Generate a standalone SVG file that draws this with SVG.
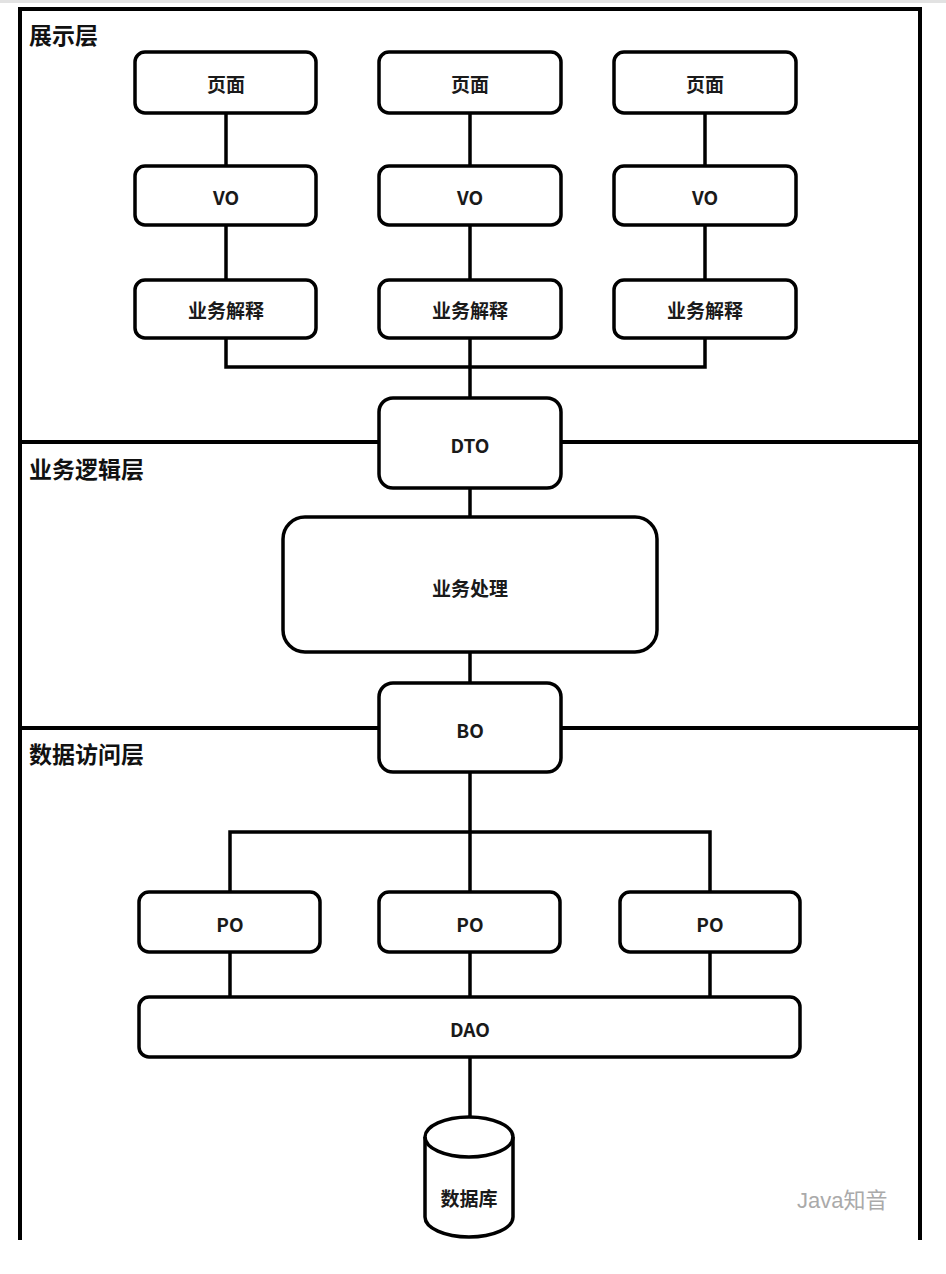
<svg xmlns="http://www.w3.org/2000/svg" width="946" height="1274" viewBox="0 0 946 1274">
<style>
.box{fill:#fff;stroke:#000;stroke-width:3.5}
.ln{fill:none;stroke:#000;stroke-width:3.5}
.frame{fill:none;stroke:#000;stroke-width:4}
.t{font-family:"Noto Sans CJK SC","Liberation Sans",sans-serif;font-size:19px;font-weight:bold;fill:#1a1a1a;text-anchor:middle;dominant-baseline:central}
.lay{font-family:"Noto Sans CJK SC",sans-serif;font-size:23px;font-weight:bold;fill:#111}
.wm{font-family:"Liberation Sans","Noto Sans CJK SC",sans-serif;font-size:22px;fill:#aaa}
</style>
<rect x="0" y="0" width="946" height="1274" fill="#fff"/>
<rect x="0" y="0" width="946" height="3" fill="#e2e2e2"/>
<g id="frame">
<path class="frame" d="M20,1240 V9 H920 V1240"/>
<line class="frame" x1="20" y1="442" x2="920" y2="442"/>
<line class="frame" x1="20" y1="728" x2="920" y2="728"/>
<text class="lay" x="29" y="44">展示层</text>
<text class="lay" x="29" y="478">业务逻辑层</text>
<text class="lay" x="29" y="763">数据访问层</text>
</g>
<g id="connectors">
<line class="ln" x1="226" y1="113" x2="226" y2="166"/>
<line class="ln" x1="470" y1="113" x2="470" y2="166"/>
<line class="ln" x1="705" y1="113" x2="705" y2="166"/>
<line class="ln" x1="226" y1="225" x2="226" y2="280"/>
<line class="ln" x1="470" y1="225" x2="470" y2="280"/>
<line class="ln" x1="705" y1="225" x2="705" y2="280"/>
<path class="ln" d="M226,338 V367 H705 V338"/>
<line class="ln" x1="470" y1="338" x2="470" y2="398"/>
<line class="ln" x1="470" y1="488" x2="470" y2="517"/>
<line class="ln" x1="470" y1="652" x2="470" y2="683"/>
<line class="ln" x1="470" y1="772" x2="470" y2="892"/>
<path class="ln" d="M230,892 V832 H710 V892"/>
<line class="ln" x1="230" y1="952" x2="230" y2="997"/>
<line class="ln" x1="470" y1="952" x2="470" y2="997"/>
<line class="ln" x1="710" y1="952" x2="710" y2="997"/>
<line class="ln" x1="470" y1="1057" x2="470" y2="1117"/>
</g>
<g id="page1"><rect class="box" x="135" y="52" width="181" height="61" rx="10"/><text class="t" x="226" y="83">页面</text></g>
<g id="page2"><rect class="box" x="379" y="52" width="182" height="61" rx="10"/><text class="t" x="470" y="83">页面</text></g>
<g id="page3"><rect class="box" x="614" y="52" width="182" height="61" rx="10"/><text class="t" x="705" y="83">页面</text></g>
<g id="vo1"><rect class="box" x="135" y="166" width="181" height="59" rx="10"/><text class="t" x="226" y="196">VO</text></g>
<g id="vo2"><rect class="box" x="379" y="166" width="182" height="59" rx="10"/><text class="t" x="470" y="196">VO</text></g>
<g id="vo3"><rect class="box" x="614" y="166" width="182" height="59" rx="10"/><text class="t" x="705" y="196">VO</text></g>
<g id="biz1"><rect class="box" x="135" y="280" width="181" height="58" rx="10"/><text class="t" x="226" y="309">业务解释</text></g>
<g id="biz2"><rect class="box" x="379" y="280" width="182" height="58" rx="10"/><text class="t" x="470" y="309">业务解释</text></g>
<g id="biz3"><rect class="box" x="614" y="280" width="182" height="58" rx="10"/><text class="t" x="705" y="309">业务解释</text></g>
<g id="dto"><rect class="box" x="379" y="398" width="182" height="90" rx="14"/><text class="t" x="470" y="444">DTO</text></g>
<g id="process"><rect class="box" x="283" y="517" width="374" height="135" rx="22"/><text class="t" x="470" y="587">业务处理</text></g>
<g id="bo"><rect class="box" x="379" y="683" width="182" height="89" rx="14"/><text class="t" x="470" y="729">BO</text></g>
<g id="po1"><rect class="box" x="139" y="892" width="181" height="60" rx="10"/><text class="t" x="230" y="923">PO</text></g>
<g id="po2"><rect class="box" x="379" y="892" width="181" height="60" rx="10"/><text class="t" x="470" y="923">PO</text></g>
<g id="po3"><rect class="box" x="620" y="892" width="180" height="60" rx="10"/><text class="t" x="710" y="923">PO</text></g>
<g id="dao"><rect class="box" x="139" y="997" width="661" height="60" rx="10"/><text class="t" x="470" y="1028">DAO</text></g>
<g id="db">
<path class="box" d="M425,1137 A44,20 0 0 1 513,1137 V1217 A44,20 0 0 1 425,1217 Z"/>
<path class="ln" d="M425,1137 A44,20 0 0 0 513,1137"/>
<text class="t" x="469" y="1197">数据库</text>
</g>
<g id="watermark"><text class="wm" x="797" y="1208">Java知音</text></g>
</svg>
